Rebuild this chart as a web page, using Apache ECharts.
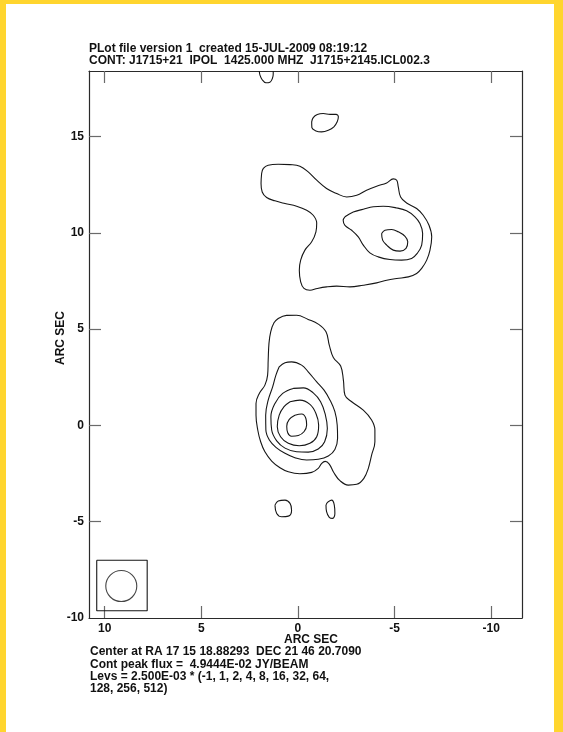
<!DOCTYPE html>
<html>
<head>
<meta charset="utf-8">
<script src="https://cdn.jsdelivr.net/npm/echarts@6/dist/echarts.min.js"></script>
<style>
html,body{margin:0;padding:0;background:#ffffff;}
#chart{width:563px;height:732px;}
</style>
</head>
<body>
<div id="chart"></div>
<script>
// Axis tick values (arcseconds offset from the map centre)
const xTickValues = [10, 5, 0, -5, -10];
const yTickValues = [-10, -5, 0, 5, 10, 15];
const yTickMarks = [-5, 0, 5, 10, 15];

// Header / footer annotation lines
const titleLines = [
  'PLot file version 1  created 15-JUL-2009 08:19:12',
  'CONT: J1715+21  IPOL  1425.000 MHZ  J1715+2145.ICL002.3'
];
const footerLines = [
  'Center at RA 17 15 18.88293  DEC 21 46 20.7090',
  'Cont peak flux =  4.9444E-02 JY/BEAM',
  'Levs = 2.500E-03 * (-1, 1, 2, 4, 8, 16, 32, 64,',
  '128, 256, 512)'
];
const axisName = 'ARC SEC';

// Contour paths, [RA offset, Dec offset] in arcsec
const topArc = [[2.00,18.4],[1.97,18.2],[1.86,17.96],[1.66,17.79],[1.45,17.82],[1.32,18.02],[1.28,18.25],[1.28,18.4]];

const northBlob = [[-0.71,15.76],[-0.79,15.98],[-1.00,16.14],[-1.31,16.19],[-1.66,16.15],[-1.97,16.15],[-2.09,16.02],[-2.03,15.76],[-1.86,15.50],[-1.57,15.32],[-1.22,15.24],[-0.93,15.29],[-0.72,15.46],[-0.71,15.76]];

const northOuter = [[1.88,13.08],[1.79,13.34],[1.54,13.51],[1.02,13.56],[0.41,13.54],[-0.10,13.46],[-0.53,13.16],[-0.97,12.73],[-1.48,12.30],[-2.00,12.04],[-2.52,11.86],[-3.04,11.95],[-3.55,12.21],[-4.07,12.42],[-4.59,12.59],[-4.93,12.80],[-5.11,12.73],[-5.19,12.38],[-5.31,11.86],[-5.62,11.55],[-6.14,11.26],[-6.48,10.91],[-6.78,10.39],[-6.92,9.79],[-6.83,9.10],[-6.66,8.58],[-6.40,8.15],[-6.14,7.89],[-5.71,7.71],[-5.11,7.63],[-4.59,7.54],[-4.07,7.40],[-3.38,7.28],[-2.69,7.19],[-2.00,7.23],[-1.48,7.19],[-1.00,7.11],[-0.62,7.02],[-0.31,7.11],[-0.14,7.45],[-0.07,8.06],[-0.14,8.58],[-0.36,9.10],[-0.71,9.53],[-0.93,10.05],[-0.97,10.51],[-0.79,10.91],[-0.45,11.17],[0.07,11.38],[0.67,11.52],[1.19,11.66],[1.62,11.83],[1.85,12.12],[1.91,12.56],[1.88,13.08]];

const northMid = [[-2.43,10.83],[-2.86,11.08],[-3.38,11.22],[-3.90,11.35],[-4.41,11.38],[-5.11,11.29],[-5.62,11.14],[-6.05,10.83],[-6.31,10.48],[-6.45,9.96],[-6.40,9.36],[-6.17,8.93],[-5.88,8.67],[-5.36,8.58],[-4.76,8.61],[-4.15,8.75],[-3.72,8.96],[-3.38,9.36],[-3.12,9.79],[-2.78,10.13],[-2.43,10.39],[-2.34,10.65],[-2.43,10.83]];

const northInner = [[-4.33,9.96],[-4.50,10.13],[-4.85,10.17],[-5.19,10.05],[-5.54,9.82],[-5.68,9.53],[-5.59,9.19],[-5.28,9.05],[-4.93,9.10],[-4.59,9.36],[-4.38,9.62],[-4.33,9.96]];

const southOuter = [[1.02,5.55],[0.59,5.71],[0.07,5.72],[-0.53,5.50],[-1.05,5.26],[-1.45,4.86],[-1.62,4.17],[-1.83,3.53],[-2.21,3.08],[-2.35,2.35],[-2.43,1.57],[-2.78,1.23],[-3.38,0.79],[-3.81,0.28],[-3.98,-0.24],[-3.98,-0.85],[-3.81,-1.54],[-3.64,-2.23],[-3.41,-2.75],[-3.04,-3.06],[-2.60,-3.10],[-2.17,-2.87],[-1.86,-2.46],[-1.62,-2.01],[-1.41,-1.87],[-1.23,-1.97],[-1.05,-2.23],[-0.71,-2.44],[-0.10,-2.51],[0.50,-2.41],[0.93,-2.20],[1.36,-1.85],[1.71,-1.37],[1.93,-0.85],[2.08,-0.24],[2.17,0.53],[2.17,1.14],[2.00,1.66],[1.71,2.09],[1.57,2.61],[1.54,3.39],[1.50,4.26],[1.41,4.86],[1.24,5.33],[1.02,5.55]];

const southRing2 = [[0.97,3.04],[0.67,3.25],[0.33,3.30],[-0.19,3.13],[-0.53,2.78],[-0.97,2.26],[-1.35,1.83],[-1.66,1.31],[-1.91,0.71],[-2.03,0.02],[-2.05,-0.67],[-1.91,-1.25],[-1.57,-1.59],[-1.05,-1.76],[-0.45,-1.80],[0.16,-1.68],[0.67,-1.45],[1.14,-1.14],[1.48,-0.76],[1.66,-0.24],[1.67,0.53],[1.54,1.31],[1.31,2.00],[1.14,2.61],[0.97,3.04]];

const southRing3 = [[0.24,1.92],[-0.28,1.95],[-0.79,1.69],[-1.17,1.23],[-1.41,0.59],[-1.52,-0.16],[-1.38,-0.85],[-1.05,-1.23],[-0.53,-1.39],[0.07,-1.37],[0.67,-1.18],[1.10,-0.80],[1.36,-0.24],[1.40,0.45],[1.19,1.14],[0.79,1.66],[0.24,1.92]];

const southRing4 = [[0.41,1.23],[-0.10,1.31],[-0.62,1.09],[-0.93,0.62],[-1.07,0.02],[-0.97,-0.59],[-0.62,-0.93],[-0.07,-1.06],[0.50,-0.93],[0.90,-0.59],[1.07,-0.07],[0.97,0.53],[0.72,0.97],[0.41,1.23]];

const southCore = [[0.16,0.53],[-0.19,0.59],[-0.41,0.36],[-0.45,0.02],[-0.31,-0.33],[-0.02,-0.52],[0.33,-0.56],[0.53,-0.38],[0.58,-0.04],[0.45,0.31],[0.16,0.53]];

const blobSW = [[1.19,-4.14],[1.02,-3.93],[0.67,-3.88],[0.41,-4.05],[0.33,-4.40],[0.50,-4.71],[0.84,-4.74],[1.10,-4.57],[1.19,-4.14]];
const blobSE = [[-1.57,-3.96],[-1.74,-3.88],[-1.88,-4.14],[-1.91,-4.57],[-1.79,-4.83],[-1.62,-4.77],[-1.48,-4.48],[-1.45,-4.14],[-1.57,-3.96]];

// Restoring beam: surrounding box and beam centre
const beamBox = [[10.41,-7.00],[7.80,-7.00],[7.80,-9.62],[10.41,-9.62],[10.41,-7.00]];
const beamCentre = [[9.14,-8.34]];

// Field of view
const xRange = {min: -11.59, max: 10.81};
const yRange = {min: -10, max: 18.4};

const chart = echarts.init(document.getElementById('chart'), null, {renderer: 'canvas'});

const INK = '#161616';
const FONT = '"Liberation Sans", Arial, Helvetica, sans-serif';

function contour(name, data, smooth) {
  return {
    name: name,
    type: 'line',
    data: data,
    xAxisIndex: 0,
    yAxisIndex: 0,
    showSymbol: false,
    symbol: 'none',
    smooth: smooth === undefined ? 0.4 : smooth,
    silent: true,
    clip: true,
    lineStyle: {color: INK, width: 1.1}
  };
}

function frameAxis(pos, showLabel, tickValues, labelValues, isX) {
  const ax = {
    type: 'value',
    position: pos,
    min: isX ? xRange.min : yRange.min,
    max: isX ? xRange.max : yRange.max,
    inverse: isX,
    splitLine: {show: false},
    axisLine: {show: true, onZero: false, lineStyle: {color: '#2a2a2a', width: 1.2}},
    axisTick: {show: true, inside: true, length: 12, customValues: tickValues,
               lineStyle: {color: '#6a6a6a', width: 1.2}},
    axisLabel: {show: showLabel}
  };
  if (showLabel) {
    ax.axisLabel = {
      show: true,
      customValues: labelValues,
      color: '#111',
      fontSize: 12,
      fontWeight: 'bold',
      fontFamily: FONT,
      margin: isX ? 5 : 5
    };
  }
  return ax;
}

function textEl(str, x, y, align, rot) {
  return {
    type: 'text',
    x: x, y: y,
    rotation: rot || 0,
    silent: true,
    style: {
      text: str,
      fill: '#111',
      font: 'bold 12px ' + FONT,
      textAlign: align || 'left',
      textVerticalAlign: 'middle'
    }
  };
}

const graphics = [
  {type: 'rect', shape: {x: 0, y: 0, width: 563, height: 4}, style: {fill: '#FFD52E'}, silent: true, z: -10},
  {type: 'rect', shape: {x: 0, y: 0, width: 6, height: 732}, style: {fill: '#FFD52E'}, silent: true, z: -10},
  {type: 'rect', shape: {x: 554, y: 0, width: 9, height: 732}, style: {fill: '#FFD52E'}, silent: true, z: -10}
];
titleLines.forEach((t, i) => graphics.push(textEl(t, 89, 49 + i * 12)));
footerLines.forEach((t, i) => graphics.push(textEl(t, 90, 652 + i * 12.3)));
graphics.push(textEl(axisName, 338, 640, 'right'));
graphics.push(textEl(axisName, 61, 338, 'center', Math.PI / 2));

const option = {
  backgroundColor: '#ffffff',
  animation: false,
  grid: {left: 89, top: 71, width: 433, height: 547, containLabel: false},
  xAxis: [
    frameAxis('bottom', true, xTickValues, xTickValues, true),
    frameAxis('top', false, xTickValues, null, true)
  ],
  yAxis: [
    frameAxis('left', true, yTickMarks, yTickValues, false),
    frameAxis('right', false, yTickMarks, null, false)
  ],
  graphic: graphics,
  series: [
    contour('top arc', topArc),
    contour('north blob', northBlob),
    contour('north outer', northOuter),
    contour('north mid', northMid),
    contour('north inner', northInner),
    contour('south outer', southOuter),
    contour('south ring 2', southRing2),
    contour('south ring 3', southRing3),
    contour('south ring 4', southRing4),
    contour('south core', southCore),
    contour('blob sw', blobSW),
    contour('blob se', blobSE),
    contour('beam box', beamBox, false),
    {
      name: 'beam',
      type: 'scatter',
      data: beamCentre,
      symbol: 'circle',
      symbolSize: 31,
      silent: true,
      itemStyle: {color: 'rgba(0,0,0,0)', borderColor: INK, borderWidth: 1.1}
    }
  ]
};

chart.setOption(option);
</script>
</body>
</html>
